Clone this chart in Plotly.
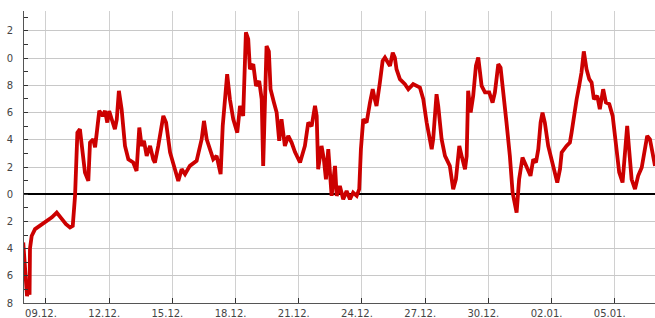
import pandas as pd
import plotly.graph_objects as go

# time in days relative to 09.12. 00:00, temperature values
day_offset = [
    -1.08, -0.95, -0.90, -0.83, -0.78, -0.76, -0.68, -0.52, -0.28, 0.03, 0.28, 0.51, 0.75, 0.95,
    1.14, 1.27, 1.38, 1.49, 1.61, 1.69, 1.85, 2.01, 2.09, 2.24, 2.33, 2.43, 2.53, 2.69, 2.80,
    2.91, 3.00, 3.12, 3.27, 3.36, 3.46, 3.59, 3.75, 3.91, 4.14, 4.30, 4.43, 4.54, 4.65, 4.78,
    4.94, 5.09, 5.17, 5.33, 5.57, 5.70, 5.89, 6.12, 6.28, 6.44, 6.60, 6.83, 7.15, 7.39, 7.50,
    7.63, 7.78, 7.94, 8.10, 8.29, 8.39, 8.50, 8.60, 8.73, 8.89, 9.08, 9.21, 9.36, 9.49, 9.60,
    9.68, 9.84, 9.97, 10.12, 10.24, 10.31, 10.39, 10.47, 10.58, 10.66, 10.82, 10.95, 11.07,
    11.18, 11.34, 11.50, 11.66, 11.82, 12.06, 12.29, 12.45, 12.61, 12.77, 12.85, 12.92, 13.08,
    13.19, 13.29, 13.40, 13.56, 13.72, 13.80, 13.95, 14.11, 14.27, 14.43, 14.58, 14.75, 14.87,
    14.95, 15.06, 15.22, 15.38, 15.51, 15.61, 15.69, 15.85, 15.98, 16.09, 16.25, 16.33, 16.46,
    16.56, 16.64, 16.80, 17.04, 17.20, 17.43, 17.67, 17.75, 17.91, 18.07, 18.31, 18.38, 18.54,
    18.62, 18.78, 18.94, 19.17, 19.33, 19.46, 19.62, 19.73, 19.89, 19.97, 20.04, 20.16, 20.28,
    20.41, 20.52, 20.68, 20.84, 21.04, 21.20, 21.31, 21.47, 21.58, 21.70, 21.86, 22.02, 22.15,
    22.34, 22.46, 22.62, 22.81, 23.00, 23.13, 23.26, 23.37, 23.48, 23.57, 23.68, 23.84, 24.08,
    24.27, 24.40, 24.48, 24.71, 24.87, 24.95, 25.06, 25.19, 25.31, 25.42, 25.53, 25.66, 25.79,
    25.90, 26.01, 26.17, 26.29, 26.45, 26.58, 26.74, 26.90, 27.01, 27.12, 27.21, 27.37, 27.48,
    27.59, 27.68, 27.80, 27.96, 28.11, 28.28, 28.43, 28.54, 28.67, 28.80, 28.91,
]
temperature = [
    -3.55, -7.2, -7.5, -6.8, -7.4, -4.0, -3.07, -2.57, -2.3, -1.96, -1.7, -1.35, -1.84, -2.2,
    -2.45, -2.33, -0.1, 4.53, 4.78, 3.55, 1.6, 0.98, 3.8, 4.04, 3.45, 4.78, 6.13, 5.76, 6.13,
    5.27, 6.12, 5.51, 4.78, 5.5, 7.6, 6.25, 3.55, 2.57, 2.33, 1.71, 4.9, 3.55, 3.92, 2.82,
    3.55, 2.57, 2.33, 3.55, 5.76, 5.27, 3.07, 1.84, 0.98, 1.84, 1.47, 2.08, 2.45, 4.04, 5.39,
    4.04, 3.31, 2.57, 2.82, 1.47, 5.02, 7.48, 8.82, 6.98, 5.51, 4.53, 6.49, 5.76, 11.9, 11.4,
    9.19, 9.56, 7.96, 8.33, 6.98, 2.08, 7.96, 10.9, 10.5, 7.72, 6.74, 6.0, 3.92,
    5.51, 3.55, 4.29, 3.8, 3.1, 2.33, 3.55, 5.27, 5.0, 6.49, 5.76, 1.84, 3.55,
    2.57, 1.1, 3.31, -0.12, 2.08, -0.12, 0.6, -0.37, 0.24, -0.37, 0.12, -0.12, 0.37,
    3.31, 5.51, 5.27, 6.74, 7.72, 6.98, 6.49, 8.21, 9.8, 10.05, 9.68, 9.43, 10.4,
    10.05, 9.19, 8.46, 8.09, 7.72, 8.09, 7.84, 7.84, 6.98, 5.27, 3.31, 4.04, 7.35,
    6.49, 4.04, 2.82, 2.08, 0.37, 1.1, 3.55, 2.82, 1.84, 2.8, 7.6, 6.0, 7.23,
    9.43, 10.05, 7.96, 7.48, 7.48, 6.74, 7.48, 9.56, 9.31, 7.72, 5.27, 2.82, 0.12,
    -1.35, 1.1, 2.7, 2.08, 1.35, 2.57, 2.33, 3.31, 5.27, 6.0, 5.27, 3.55, 2.08,
    0.86, 1.84, 3.07, 3.55, 3.8, 4.53, 5.76, 6.98, 7.96, 8.95, 10.5, 9.19, 8.46,
    8.21, 6.98, 7.23, 6.25, 7.72, 6.74, 6.62, 5.76, 4.29, 2.57, 1.6, 0.86, 2.82,
    5.02, 3.31, 1.1, 0.37, 1.35, 1.96, 3.31, 4.29, 4.04, 3.07, 2.08,
]

y_tick_values = [-8, -6, -4, -2, 0, 2, 4, 6, 8, 10, 12]
y_tick_labels = ["8", "6", "4", "2", "0", "2", "4", "6", "8", "0", "2"]

base = pd.Timestamp("2012-12-09")
times = base + pd.to_timedelta(day_offset, unit="D")

fig = go.Figure()
fig.add_trace(go.Scatter(
    x=times, y=temperature, mode="lines",
    line=dict(color="#cc0000", width=3.8),
    showlegend=False,
))

x_start = base + pd.to_timedelta(-1.044, unit="D")
x_end = base + pd.to_timedelta(28.91, unit="D")

fig.update_layout(
    width=655, height=318,
    margin=dict(l=24, r=0, t=11, b=15),
    paper_bgcolor="white", plot_bgcolor="white",
    font=dict(family="DejaVu Sans", size=10, color="#444444"),
    xaxis=dict(
        type="date", range=[x_start, x_end],
        tick0="2012-12-09", dtick=3 * 86400000, tickformat="%d.%m.",
        ticks="inside", ticklen=5, tickcolor="#333333",
        showgrid=True, gridcolor="#d0d0d0", gridwidth=1,
        showline=True, linecolor="#555555", linewidth=1,
        zeroline=False, ticklabelshift=-5, ticklabelstandoff=1,
    ),
    yaxis=dict(
        range=[-8, 13.47],
        tickvals=y_tick_values, ticktext=y_tick_labels,
        ticks="inside", ticklen=4, tickcolor="#333333",
        minor=dict(dtick=1, tick0=-8, ticks="inside", ticklen=4, tickcolor="#333333", showgrid=False),
        showgrid=True, gridcolor="#c8c8c8", gridwidth=1,
        showline=True, linecolor="#555555", linewidth=1,
        zeroline=True, zerolinecolor="#000000", zerolinewidth=1.5,
        ticklabelstandoff=8,
    ),
)

fig.write_html(
    "out.html",
    config={"displayModeBar": False},
    post_script="document.body.style.margin='0';document.body.style.padding='0';",
)
